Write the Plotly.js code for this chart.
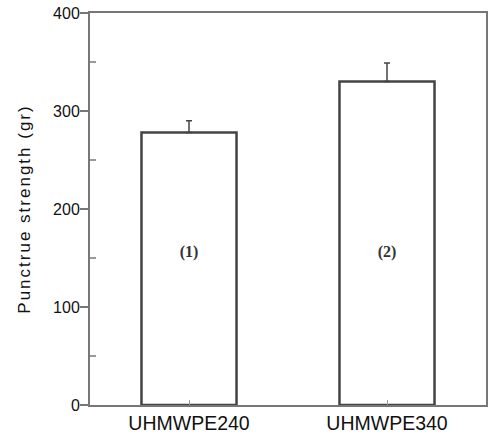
<!DOCTYPE html>
<html><head><meta charset="utf-8">
<script src="https://cdn.plot.ly/plotly-3.0.1.min.js"></script>
<style>html,body{margin:0;padding:0;background:#fff}#chart{width:490px;height:438px}
.ytitle{letter-spacing:2px}</style>
</head><body><div id="chart"></div>
<script>
const categories = ["UHMWPE240", "UHMWPE340"];
const strength = [278, 330];
const errorUp = [12, 19];
const barLabels = ["(1)", "(2)"];
const labelY = [155, 155];

const data = [{
  type: "bar",
  x: categories,
  y: strength,
  width: 0.48,
  marker: {color: "#ffffff", line: {color: "#444444", width: 2.5}},
  error_y: {type: "data", symmetric: false, array: errorUp, arrayminus: [0, 0], color: "#444444", thickness: 1.5, width: 3},
  hoverinfo: "none"
}, {
  type: "scatter",
  mode: "text",
  x: categories,
  y: labelY,
  text: barLabels,
  textfont: {family: "Liberation Serif, Times New Roman, serif", size: 16, color: "#333", weight: "bold"},
  hoverinfo: "none"
}];

const layout = {
  width: 490, height: 438,
  margin: {l: 90, r: 4, t: 13, b: 33},
  showlegend: false,
  paper_bgcolor: "#fff", plot_bgcolor: "#fff",
  xaxis: {
    range: [-0.5, 1.5],
    showline: true, linecolor: "#777", linewidth: 2, mirror: true,
    ticks: "inside", ticklen: 5, tickcolor: "#999",
    tickfont: {family: "Liberation Sans, Arial, sans-serif", size: 19.5, color: "#111"},
    showgrid: false, zeroline: false
  },
  yaxis: {
    range: [0, 400],
    title: {text: "Punctrue strength (gr)", font: {family: "Liberation Sans, Arial, sans-serif", size: 17, color: "#111"}, standoff: 18},
    tickvals: [0, 100, 200, 300, 400],
    ticks: "outside", ticklen: 8, tickcolor: "#777", tickwidth: 1.5,
    ticklabelstandoff: -3,
    minor: {tickvals: [50, 150, 250, 350], ticks: "inside", ticklen: 6, tickcolor: "#999"},
    showline: true, linecolor: "#777", linewidth: 2, mirror: true,
    tickfont: {family: "Liberation Sans, Arial, sans-serif", size: 16, color: "#111"},
    showgrid: false, zeroline: false
  }
};
Plotly.newPlot("chart", data, layout, {displayModeBar: false, staticPlot: true});
</script></body></html>
